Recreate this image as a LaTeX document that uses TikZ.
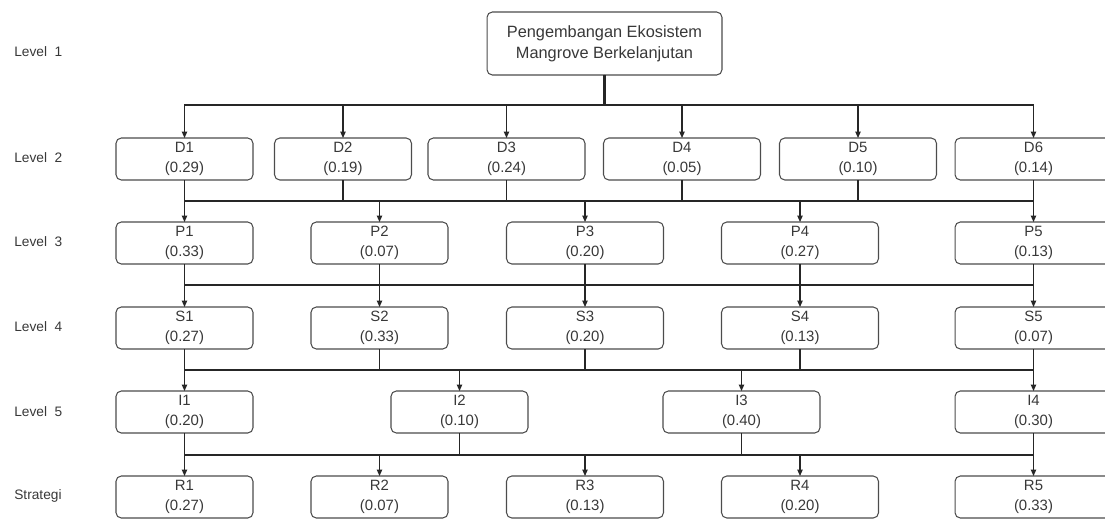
\documentclass[tikz,border=0pt]{standalone}
\usepackage{fontspec}
\setmainfont{Liberation Sans}
\usetikzlibrary{arrows.meta}

\begin{document}
\begin{tikzpicture}[x=0.02cm, y=-0.02cm,
    box/.style={draw=black!70, line width=0.6pt, rounded corners=3pt, inner sep=0pt, outer sep=0pt,
        minimum height=0.84cm, align=center, text=black!78, font=\fontsize{8.5}{11.5}\selectfont},
    small/.style={box, minimum width=2.74cm},
    wide/.style={box, minimum width=3.14cm},
    lvl/.style={anchor=west, inner sep=0pt, text=black!78, font=\fontsize{7.8}{10}\selectfont},
    line/.style={draw=black!85, line width=0.7pt},
    arr/.style={line, -{Triangle[length=3.6pt,width=3pt]}}]
    \useasboundingbox (0,0) rectangle (1105,518);

    \node[lvl] (lv1) at (14,52) {Level\ \ 1};
    \node[lvl] (lv2) at (14,158) {Level\ \ 2};
    \node[lvl] (lv3) at (14,242) {Level\ \ 3};
    \node[lvl] (lv4) at (14,327) {Level\ \ 4};
    \node[lvl] (lv5) at (14,412) {Level\ \ 5};
    \node[lvl] (lvs) at (14,496) {Strategi};

    \node[box, minimum width=4.7cm, minimum height=1.26cm, font=\fontsize{9.3}{12}\selectfont]
        (root) at (604.5,43.5) {Pengembangan Ekosistem\\Mangrove Berkelanjutan};

    \node[small] (D1) at (184.5,159) {D1\\(0.29)};
    \node[small] (D2) at (343,159) {D2\\(0.19)};
    \node[wide] (D3) at (506.5,159) {D3\\(0.24)};
    \node[wide] (D4) at (682,159) {D4\\(0.05)};
    \node[wide] (D5) at (858,159) {D5\\(0.10)};
    \node[wide] (D6) at (1033.5,159) {D6\\(0.14)};

    \node[small] (P1) at (184.5,243) {P1\\(0.33)};
    \node[small] (P2) at (379.5,243) {P2\\(0.07)};
    \node[wide] (P3) at (585,243) {P3\\(0.20)};
    \node[wide] (P4) at (800,243) {P4\\(0.27)};
    \node[wide] (P5) at (1033.5,243) {P5\\(0.13)};

    \node[small] (S1) at (184.5,328) {S1\\(0.27)};
    \node[small] (S2) at (379.5,328) {S2\\(0.33)};
    \node[wide] (S3) at (585,328) {S3\\(0.20)};
    \node[wide] (S4) at (800,328) {S4\\(0.13)};
    \node[wide] (S5) at (1033.5,328) {S5\\(0.07)};

    \node[small] (I1) at (184.5,412) {I1\\(0.20)};
    \node[small] (I2) at (459.5,412) {I2\\(0.10)};
    \node[wide] (I3) at (741.5,412) {I3\\(0.40)};
    \node[wide] (I4) at (1033.5,412) {I4\\(0.30)};

    \node[small] (R1) at (184.5,497) {R1\\(0.27)};
    \node[small] (R2) at (379.5,497) {R2\\(0.07)};
    \node[wide] (R3) at (585,497) {R3\\(0.13)};
    \node[wide] (R4) at (800,497) {R4\\(0.20)};
    \node[wide] (R5) at (1033.5,497) {R5\\(0.33)};

    % buses
    \coordinate (busA) at (0,201);
    \coordinate (busB) at (0,285);
    \coordinate (busC) at (0,370);
    \coordinate (busD) at (0,455);

    % level 1 -> level 2
    \foreach \i in {1,...,6}
        \draw[arr] (root.south) -- ++(0,30) -| (D\i.north);
    \draw[line, line width=1.3pt] (root.south) -- ++(0,30);

    % level 2 -> level 3
    \foreach \i in {1,...,6}
        \draw[line] (D\i.south) -- (D\i.south |- busA);
    \draw[line] (D1.south |- busA) -- (D6.south |- busA);
    \foreach \i in {1,...,5}
        \draw[arr] (P\i.north |- busA) -- (P\i.north);

    % level 3 -> level 4
    \foreach \i in {1,...,5}
        \draw[line] (P\i.south) -- (P\i.south |- busB);
    \draw[line] (P1.south |- busB) -- (P5.south |- busB);
    \foreach \i in {1,...,5}
        \draw[arr] (S\i.north |- busB) -- (S\i.north);

    % level 4 -> level 5
    \foreach \i in {1,...,5}
        \draw[line] (S\i.south) -- (S\i.south |- busC);
    \draw[line] (S1.south |- busC) -- (S5.south |- busC);
    \foreach \i in {1,...,4}
        \draw[arr] (I\i.north |- busC) -- (I\i.north);

    % level 5 -> strategi
    \foreach \i in {1,...,4}
        \draw[line] (I\i.south) -- (I\i.south |- busD);
    \draw[line] (I1.south |- busD) -- (I4.south |- busD);
    \foreach \i in {1,...,5}
        \draw[arr] (R\i.north |- busD) -- (R\i.north);
\end{tikzpicture}
\end{document}
